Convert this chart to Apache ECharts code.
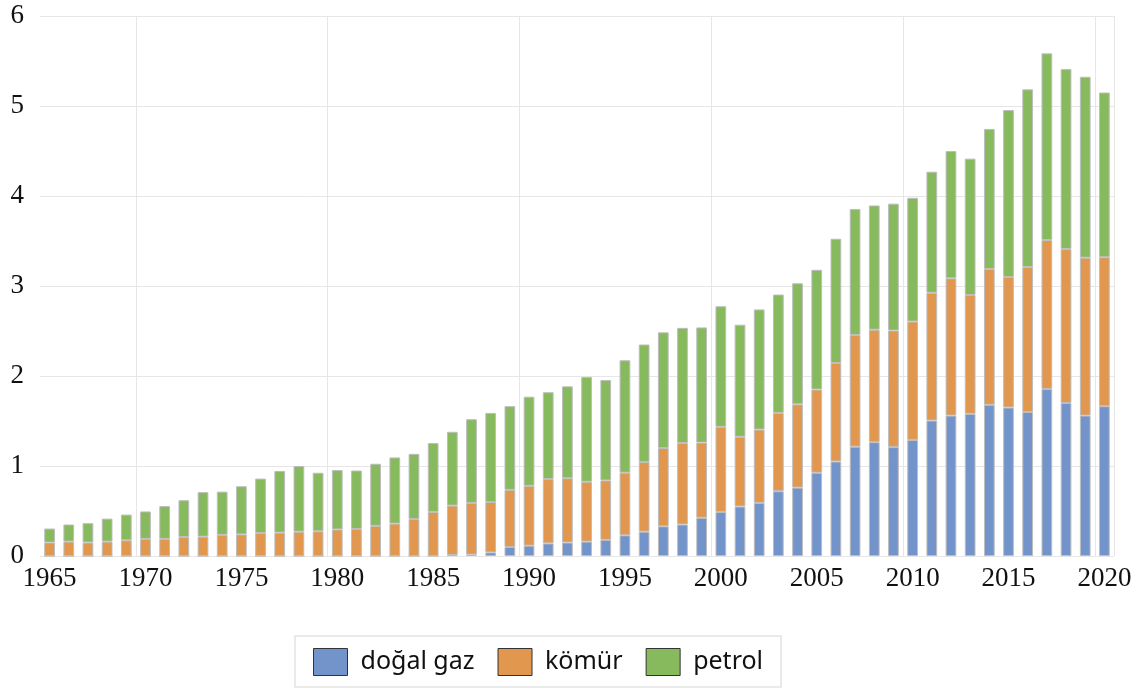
<!DOCTYPE html>
<html>
<head>
<meta charset="utf-8">
<script src="https://cdn.jsdelivr.net/npm/echarts@6/dist/echarts.min.js"></script>
<style>
  html, body { margin: 0; padding: 0; background: #ffffff; }
  #chart { width: 1140px; height: 693px; }
</style>
</head>
<body>
<div id="chart"></div>
<script>
// Years on the category axis
const years = [];
for (let y = 1965; y <= 2020; y++) years.push(String(y));

// Natural gas
const dogalGaz = [
  0, 0, 0, 0, 0, 0, 0, 0, 0, 0,
  0, 0, 0, 0, 0, 0, 0, 0, 0, 0,
  0, 0.01, 0.015, 0.04, 0.10, 0.115, 0.14, 0.15, 0.16, 0.18,
  0.23, 0.27, 0.33, 0.35, 0.425, 0.49, 0.55, 0.59, 0.72, 0.76,
  0.925, 1.05, 1.215, 1.265, 1.21, 1.29, 1.505, 1.56, 1.58, 1.68,
  1.65, 1.60, 1.855, 1.70, 1.56, 1.665
];

// Coal
const komur = [
  0.15, 0.16, 0.15, 0.16, 0.175, 0.19, 0.19, 0.21, 0.215, 0.235,
  0.24, 0.255, 0.26, 0.27, 0.275, 0.295, 0.30, 0.335, 0.36, 0.41,
  0.49, 0.55, 0.575, 0.56, 0.635, 0.665, 0.715, 0.715, 0.665, 0.66,
  0.695, 0.775, 0.87, 0.905, 0.835, 0.945, 0.775, 0.815, 0.87, 0.925,
  0.925, 1.095, 1.24, 1.25, 1.295, 1.315, 1.42, 1.525, 1.32, 1.51,
  1.45, 1.61, 1.655, 1.71, 1.755, 1.655
];

// Oil
const petrol = [
  0.155, 0.19, 0.215, 0.255, 0.285, 0.305, 0.365, 0.41, 0.495, 0.48,
  0.535, 0.605, 0.685, 0.73, 0.65, 0.66, 0.65, 0.69, 0.735, 0.725,
  0.765, 0.82, 0.93, 0.99, 0.93, 0.99, 0.965, 1.02, 1.165, 1.115,
  1.25, 1.305, 1.285, 1.28, 1.28, 1.34, 1.245, 1.335, 1.315, 1.345,
  1.33, 1.38, 1.40, 1.38, 1.41, 1.375, 1.345, 1.415, 1.515, 1.555,
  1.855, 1.975, 2.075, 2.00, 2.01, 1.83
];

const yTicks = [0, 1, 2, 3, 4, 5, 6];

const seriesNames = ['doğal gaz', 'kömür', 'petrol'];
const seriesColors = ['#7394cb', '#e2974f', '#87ba5d'];
const seriesData = [dogalGaz, komur, petrol];

const chart = echarts.init(document.getElementById('chart'), null, { renderer: 'canvas' });

const serifFont = '"Liberation Serif", "DejaVu Serif", serif';

chart.setOption({
  animation: false,
  backgroundColor: '#ffffff',
  grid: { left: 40, right: 26, top: 16, bottom: 137, containLabel: false },
  legend: {
    data: seriesNames.map(n => ({ name: n, icon: 'rect' })),
    left: 295,
    top: 636,
    padding: [12, 18, 11, 18],
    itemWidth: 34,
    itemHeight: 27,
    itemGap: 23,
    borderColor: '#e3e3e3',
    borderWidth: 1.5,
    textStyle: {
      fontFamily: '"Noto Sans", "Open Sans", sans-serif',
      fontSize: 25,
      color: '#111111',
      padding: [0, 0, 0, 8]
    },
    itemStyle: { borderColor: '#333333', borderWidth: 1 }
  },
  xAxis: {
    type: 'category',
    data: years,
    boundaryGap: true,
    axisLine: { show: false },
    axisTick: { show: false },
    axisLabel: {
      interval: 4,
      margin: 9,
      fontFamily: serifFont,
      fontSize: 27,
      color: '#111111'
    },
    splitLine: {
      show: true,
      interval: function (index) { return (index - 5) % 10 === 0; },
      lineStyle: { color: '#e6e6e6', width: 1 }
    }
  },
  yAxis: {
    type: 'value',
    min: yTicks[0],
    max: yTicks[yTicks.length - 1],
    interval: 1,
    axisLine: { show: false },
    axisTick: { show: false },
    axisLabel: {
      margin: 16,
      fontFamily: serifFont,
      fontSize: 27,
      color: '#111111'
    },
    splitLine: { lineStyle: { color: '#e6e6e6', width: 1 } }
  },
  series: seriesNames.map((name, i) => ({
    name: name,
    type: 'bar',
    stack: 'total',
    barWidth: '56%',
    data: seriesData[i],
    itemStyle: {
      color: seriesColors[i],
      borderColor: '#bdbdbd',
      borderWidth: 1
    }
  }))
});
</script>
</body>
</html>
